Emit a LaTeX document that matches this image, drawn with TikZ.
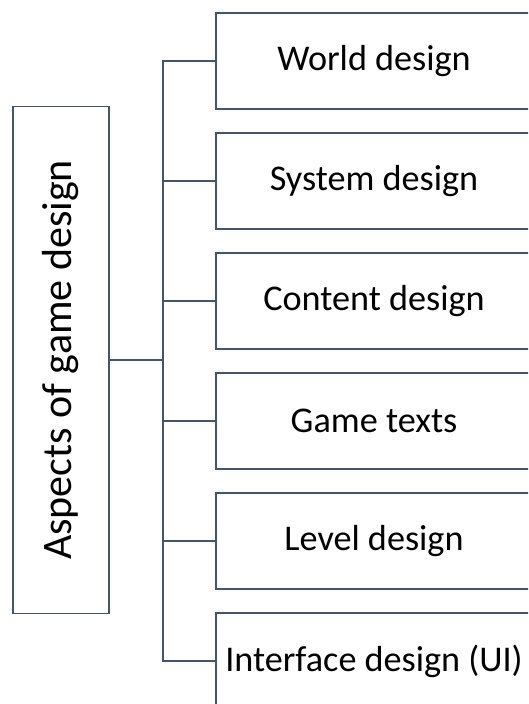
\documentclass[tikz,border=0pt]{standalone}
\usepackage{fontspec}
\setmainfont{Carlito}
\definecolor{lineclr}{HTML}{44546A}
\begin{document}
\begin{tikzpicture}[x=1pt,y=1pt,
  conn/.style={draw=lineclr,line width=1.8pt},
  itembox/.style={draw=lineclr,line width=1.8pt,fill=white,rectangle,
    minimum width=316pt,minimum height=96pt,inner sep=0pt,
    font=\fontsize{36.2}{43}\selectfont,text=black},
  mainbox/.style={draw=lineclr,line width=1.8pt,fill=white,rectangle,
    minimum width=96pt,minimum height=507pt,inner sep=0pt,
    font=\fontsize{42}{50}\selectfont,text=black}]
\clip (0,0) rectangle (528,704);
\fill[white] (0,0) rectangle (528,704);
\node[mainbox] (main) at (61,344) {\rotatebox{90}{Aspects of game design}};
\node[itembox] (b1) at (374,643) {World design};
\node[itembox] (b2) at (374,523) {System design};
\node[itembox] (b3) at (374,403) {Content design};
\node[itembox] (b4) at (374,283) {Game texts};
\node[itembox] (b5) at (374,163) {Level design};
\node[itembox] (b6) at (374,43) {Interface design (UI)};
\coordinate (trunk) at (163,0);
\draw[conn] (b1.west) -- (b1.west -| trunk) -- (b6.west -| trunk) -- (b6.west);
\draw[conn] (b2.west) -- (b2.west -| trunk);
\draw[conn] (b3.west) -- (b3.west -| trunk);
\draw[conn] (b4.west) -- (b4.west -| trunk);
\draw[conn] (b5.west) -- (b5.west -| trunk);
\draw[conn] (main.east) -- (main.east -| trunk);
\end{tikzpicture}
\end{document}
